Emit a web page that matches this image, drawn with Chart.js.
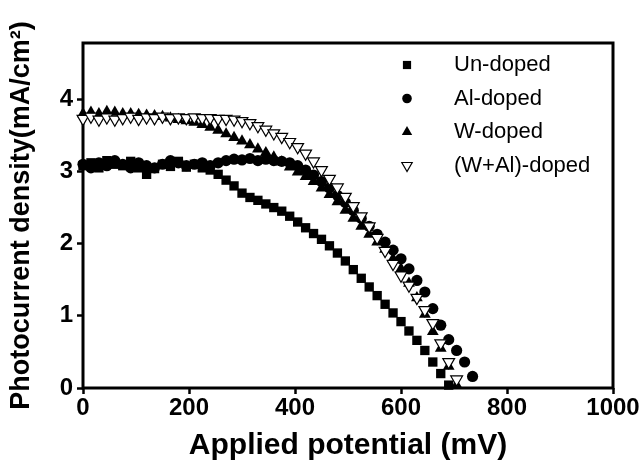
<!DOCTYPE html>
<html>
<head>
<meta charset="utf-8">
<script src="https://cdn.jsdelivr.net/npm/chart.js@4.4.0/dist/chart.umd.min.js"></script>
<style>
  html, body { margin: 0; padding: 0; background: #fff; }
  #wrap { width: 642px; height: 470px; }
</style>
</head>
<body>
<div id="wrap"><canvas id="pc"></canvas></div>
<script>
// applied potential (mV), shared by all series
const potential = [0,15,30,45,60,75,90,105,120,135,150,165,180,195,210,225,240,255,270,285,
  300,315,330,345,360,375,390,405,420,435,450,465,480,495,510,525,540,555,570,585,
  600,615,630,645,660,675,690,705,720,735];

// photocurrent density (mA/cm2)
const undoped = [3.08,3.12,3.05,3.15,3.10,3.08,3.14,3.05,2.96,3.04,3.10,3.07,3.14,3.06,3.10,3.05,3.02,2.96,2.88,2.80,
  2.70,2.64,2.60,2.55,2.50,2.45,2.38,2.30,2.22,2.14,2.06,1.97,1.87,1.76,1.64,1.52,1.40,1.28,1.16,1.04,
  0.92,0.79,0.66,0.52,0.36,0.20,0.04];
const alDoped = [3.10,3.05,3.12,3.08,3.15,3.10,3.05,3.12,3.08,3.05,3.10,3.15,3.12,3.08,3.10,3.12,3.08,3.12,3.15,3.17,
  3.16,3.18,3.15,3.17,3.15,3.14,3.12,3.08,3.02,2.95,2.86,2.77,2.67,2.57,2.46,2.35,2.24,2.13,2.02,1.91,
  1.79,1.65,1.49,1.33,1.10,0.87,0.67,0.52,0.36,0.16];
const wDoped = [3.80,3.82,3.80,3.83,3.82,3.80,3.80,3.79,3.78,3.77,3.76,3.74,3.72,3.70,3.68,3.65,3.61,3.57,3.52,3.47,
  3.42,3.37,3.31,3.26,3.20,3.13,3.06,2.99,2.93,2.86,2.77,2.68,2.58,2.46,2.35,2.24,2.13,2.02,1.92,1.79,
  1.65,1.45,1.25,1.02,0.78,0.55,0.30,0.04];
const wAlDoped = [3.73,3.76,3.72,3.75,3.72,3.74,3.76,3.73,3.75,3.74,3.76,3.74,3.75,3.74,3.75,3.74,3.74,3.73,3.73,3.72,
  3.70,3.67,3.63,3.58,3.53,3.48,3.41,3.34,3.25,3.14,3.02,2.90,2.78,2.65,2.52,2.38,2.24,2.08,1.90,1.72,
  1.56,1.42,1.25,1.08,0.90,0.62,0.36,0.12];

const seriesNames = ['Un-doped', 'Al-doped', 'W-doped', '(W+Al)-doped'];
const xTicks = [0, 200, 400, 600, 800, 1000];
const yTicks = [0, 1, 2, 3, 4];

function toPoints(ys){
  return ys.map((v, i) => ({x: potential[i], y: v}));
}

// frame round the plot area
const frame = {
  id: 'frame',
  beforeDatasetsDraw(chart){
    const a = chart.chartArea, ctx = chart.ctx;
    ctx.save();
    ctx.strokeStyle = '#000';
    ctx.lineWidth = 3;
    ctx.strokeRect(a.left, a.top, a.right - a.left, a.bottom - a.top);
    ctx.restore();
  }
};

// legend inside the plot, top right
const insideLegend = {
  id: 'insideLegend',
  afterDatasetsDraw(chart){
    const a = chart.chartArea, ctx = chart.ctx;
    ctx.save();
    chart.data.datasets.forEach((ds, i) => {
      let y = a.top + 22 + i * 33.5;
      let x = a.right - 206;
      ctx.fillStyle = ds.backgroundColor;
      ctx.strokeStyle = ds.borderColor;
      ctx.lineWidth = ds.borderWidth;
      Chart.helpers.drawPoint(ctx, {
        pointStyle: ds.pointStyle,
        rotation: ds.pointRotation || 0,
        radius: ds.pointRadius - 0.8,
        borderWidth: ds.borderWidth
      }, x, y);
      ctx.fillStyle = '#000';
      ctx.font = '22px "Liberation Sans", Arial, sans-serif';
      ctx.textBaseline = 'middle';
      ctx.textAlign = 'left';
      ctx.fillText(ds.label, x + 47, y);
    });
    ctx.restore();
  }
};

const ctx = document.getElementById('pc').getContext('2d');
const myChart = new Chart(ctx, {
  type: 'scatter',
  data: {
    datasets: [
      {label: seriesNames[0], data: toPoints(undoped), pointStyle: 'rect', pointRadius: 6.6,
        backgroundColor: '#000', borderColor: '#000', borderWidth: 0, order: 3, clip: false},
      {label: seriesNames[1], data: toPoints(alDoped), pointStyle: 'circle', pointRadius: 5.6,
        backgroundColor: '#000', borderColor: '#000', borderWidth: 0, order: 2, clip: false},
      {label: seriesNames[2], data: toPoints(wDoped), pointStyle: 'triangle', pointRadius: 6.8,
        backgroundColor: '#000', borderColor: '#000', borderWidth: 0, order: 1, clip: false},
      {label: seriesNames[3], data: toPoints(wAlDoped), pointStyle: 'triangle', pointRotation: 180, pointRadius: 6.8,
        backgroundColor: '#fff', borderColor: '#000', borderWidth: 1.2, order: 0, clip: false}
    ]
  },
  options: {
    responsive: true,
    maintainAspectRatio: false,
    animation: false,
    events: [],
    layout: { padding: { left: 0, right: 29, top: 43, bottom: 0 } },
    plugins: { legend: { display: false }, tooltip: { enabled: false } },
    scales: {
      x: {
        type: 'linear',
        min: 0, max: 1000,
        afterBuildTicks: s => { s.ticks = xTicks.map(v => ({value: v})); },
        afterFit: s => { s.height = 82; },
        border: { display: false },
        grid: { drawOnChartArea: false, drawTicks: true, tickLength: 6, tickWidth: 2.5, color: '#000' },
        ticks: { color: '#000', padding: 0, maxRotation: 0,
          callback: v => String(v),
          font: { family: '"Liberation Sans", Arial, sans-serif', size: 24, weight: 'bold' } },
        title: { display: true, text: 'Applied potential (mV)', color: '#000',
          padding: { top: 0, bottom: 6 },
          font: { family: '"Liberation Sans", Arial, sans-serif', size: 30, weight: 'bold' } }
      },
      y: {
        type: 'linear',
        min: 0, max: 4.78,
        afterBuildTicks: s => { s.ticks = yTicks.map(v => ({value: v})); },
        afterFit: s => { s.width = 83; },
        border: { display: false },
        grid: { drawOnChartArea: false, drawTicks: true, tickLength: 6, tickWidth: 2.5, color: '#000' },
        ticks: { color: '#000', padding: 4,
          font: { family: '"Liberation Sans", Arial, sans-serif', size: 24, weight: 'bold' } },
        title: { display: true, text: 'Photocurrent density(mA/cm\u00B2)', color: '#000',
          padding: { top: 5, bottom: 0 },
          font: { family: '"Liberation Sans", Arial, sans-serif', size: 27, weight: 'bold' } }
      }
    }
  },
  plugins: [frame, insideLegend]
});
</script>
</body>
</html>
